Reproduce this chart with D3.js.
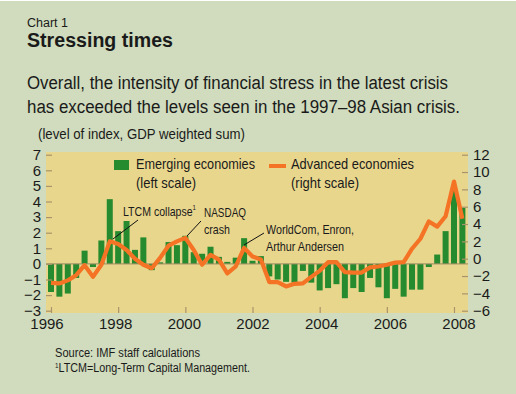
<!DOCTYPE html>
<html>
<head>
<meta charset="utf-8">
<script src="https://cdn.jsdelivr.net/npm/d3@7"></script>
<style>
  body { margin: 0; background: #fff; }
  svg text { font-family: "Liberation Sans", Arial, sans-serif; fill: #1a1a1a; }
</style>
</head>
<body>
<svg id="chart" width="516" height="394"></svg>
<script>
// quarterly, 1996Q1 .. 2008Q2
const quarters = d3.range(50).map(i => 1996 + i / 4);

// Emerging economies (left scale)
const emerging = [
  -1.8, -2.1, -1.9, -0.9,
   0.85, -0.2, 1.5, 4.15,
   2.1, 2.75, 0.9, 1.7,
  -0.4, 0.1, 1.4, 1.2,
   1.8, 0.75, 0.65, 1.1,
   0.45, 0.13, 0.4, 1.65,
   0.2, 0.5, -0.8, -1.0,
  -1.15, -1.2, -0.45, -1.2,
  -1.7, -1.55, -1.3, -2.2,
  -1.55, -1.8, -0.9, -1.5,
  -2.2, -1.6, -2.1, -1.65,
  -1.65, -0.2, 0.6, 2.1,
   4.7, 3.6
];

// Advanced economies (right scale)
const advanced = [
  -2.8, -2.85, -2.5, -1.9,
  -0.75, -2.1, -0.7, 2.0,
   1.7, 1.0, 0.0, -0.7,
  -1.1, 0.1, 1.5, 2.0,
   2.4, 1.0, -0.7, 0.45,
  -0.1, -1.7, -0.9, 1.25,
   0.25, -0.1, -2.7, -2.7,
  -3.2, -2.9, -2.85, -2.1,
  -1.4, -0.4, -0.4, -1.55,
  -1.6, -1.6, -1.0, -0.9,
  -0.7, -0.45, -0.4, 1.15,
   2.3, 4.3, 3.7, 4.9,
   8.9, 4.6
];

const leftTicks = [-3, -2, -1, 0, 1, 2, 3, 4, 5, 6, 7];
const rightTicks = [-6, -4, -2, 0, 2, 4, 6, 8, 10, 12];
const yearTicks = [1996, 1998, 2000, 2002, 2004, 2006, 2008];

const svg = d3.select("#chart");

// condensed-looking text: squeeze the wide font into the reference width
function label(parent, x, y, str, size, width, bold) {
    const t = parent.append("text")
        .attr("x", x).attr("y", y)
        .style("font-size", size + "px")
        .text(str);
    if (bold) t.style("font-weight", "bold");
    if (width) t.attr("textLength", width).attr("lengthAdjust", "spacingAndGlyphs");
    return t;
}

// page background
svg.append("rect")
    .attr("x", 0).attr("y", 1)
    .attr("width", 516).attr("height", 393)
    .attr("fill", "#d0dcbd");

// header texts
label(svg, 27, 27, "Chart 1", 12, 41);
label(svg, 27, 47, "Stressing times", 19.5, 146, true);
label(svg, 27, 89, "Overall, the intensity of financial stress in the latest crisis", 18, 421);
label(svg, 27, 113, "has exceeded the levels seen in the 1997\u201398 Asian crisis.", 18, 433);
label(svg, 38, 139, "(level of index, GDP weighted sum)", 14, 207);

// plot area
const plot = { left: 46, right: 468, top: 152, bottom: 313 };

svg.append("rect")
    .attr("x", plot.left).attr("y", plot.top)
    .attr("width", plot.right - plot.left)
    .attr("height", plot.bottom - plot.top)
    .attr("fill", "#e9d68d");

const x = d3.scaleLinear().domain([1996, 2008]).range([51, 454]);
const yL = d3.scaleLinear().domain([-3, 7]).range([310.7, 154.7]);
const yR = d3.scaleLinear().domain([-6, 12]).range([310.7, 154.7]);

const barW = 6;

// bars
svg.append("g").selectAll("rect")
    .data(quarters)
    .enter().append("rect")
    .attr("x", (d) => x(d) - barW / 2)
    .attr("y", (d, i) => yL(Math.max(0, emerging[i])))
    .attr("width", barW)
    .attr("height", (d, i) => Math.abs(yL(emerging[i]) - yL(0)))
    .attr("fill", "#268a2e");

// zero line (left scale)
svg.append("line")
    .attr("x1", plot.left).attr("x2", plot.right)
    .attr("y1", yL(0)).attr("y2", yL(0))
    .attr("stroke", "#9c8a62").attr("stroke-width", 1);

// line
const line = d3.line()
    .x((d) => x(d))
    .y((d, i) => yR(advanced[i]));

svg.append("path")
    .datum(quarters)
    .attr("d", line)
    .attr("fill", "none")
    .attr("stroke", "#f47324")
    .attr("stroke-width", 4.2)
    .attr("stroke-linejoin", "round");

// axes
function styleAxis(g) {
    g.select(".domain").remove();
    g.selectAll(".tick line").attr("stroke", "#a8946a").attr("stroke-width", 1.2);
    g.selectAll(".tick text")
        .style("font-family", "\"Liberation Sans\", sans-serif")
        .style("font-size", "15px")
        .attr("fill", "#1a1a1a");
}

svg.append("g")
    .attr("transform", "translate(" + plot.left + ",0)")
    .call(d3.axisLeft(yL).tickValues(leftTicks).tickSize(-6).tickPadding(5))
    .call(styleAxis);

svg.append("g")
    .attr("transform", "translate(" + plot.right + ",0)")
    .call(d3.axisRight(yR).tickValues(rightTicks).tickSize(-6).tickPadding(5))
    .call(styleAxis);

svg.append("g")
    .attr("transform", "translate(0," + plot.bottom + ")")
    .call(d3.axisBottom(x).tickValues(yearTicks).tickFormat(d3.format("d")).tickSize(-6).tickPadding(5))
    .call(styleAxis)
    .selectAll(".tick text")
    .attr("x", (d) => (d - 2002) * 0.75); // labels spread a touch wider than ticks

// legend
svg.append("rect")
    .attr("x", 114).attr("y", 160)
    .attr("width", 15).attr("height", 10)
    .attr("fill", "#268a2e");
label(svg, 136, 169, "Emerging economies", 15, 119);
label(svg, 136, 188, "(left scale)", 15, 60);

svg.append("line")
    .attr("x1", 269).attr("x2", 286)
    .attr("y1", 166).attr("y2", 166)
    .attr("stroke", "#f47324").attr("stroke-width", 4);
label(svg, 291, 169, "Advanced economies", 15, 123);
label(svg, 291, 188, "(right scale)", 15, 68);

// annotations
const notes = svg.append("g");

const ltcm = notes.append("text")
    .attr("x", 123).attr("y", 216)
    .style("font-size", "13px")
    .attr("textLength", 73).attr("lengthAdjust", "spacingAndGlyphs");
ltcm.append("tspan").text("LTCM collapse");
ltcm.append("tspan").attr("dy", -6).style("font-size", "7.5px").text("1");
notes.append("line")
    .attr("x1", 138).attr("y1", 220).attr("x2", 113).attr("y2", 239)
    .attr("stroke", "#111").attr("stroke-width", 1);

label(notes, 204, 217, "NASDAQ", 13, 42);
label(notes, 204, 234, "crash", 13, 26);
notes.append("line")
    .attr("x1", 201).attr("y1", 221).attr("x2", 187).attr("y2", 236)
    .attr("stroke", "#111").attr("stroke-width", 1);

label(notes, 266, 234, "WorldCom, Enron,", 13, 88);
label(notes, 266, 251, "Arthur Andersen", 13, 78);
notes.append("line")
    .attr("x1", 264).attr("y1", 233).attr("x2", 244).attr("y2", 245)
    .attr("stroke", "#111").attr("stroke-width", 1);

// footer
label(svg, 55, 357, "Source: IMF staff calculations", 12, 145);
const fn = svg.append("text")
    .attr("x", 55).attr("y", 372)
    .style("font-size", "12px")
    .attr("textLength", 195).attr("lengthAdjust", "spacingAndGlyphs");
fn.append("tspan").attr("dy", -4).style("font-size", "7px").text("1");
fn.append("tspan").attr("dy", 4).text("LTCM=Long-Term Capital Management.");
</script>
</body>
</html>
